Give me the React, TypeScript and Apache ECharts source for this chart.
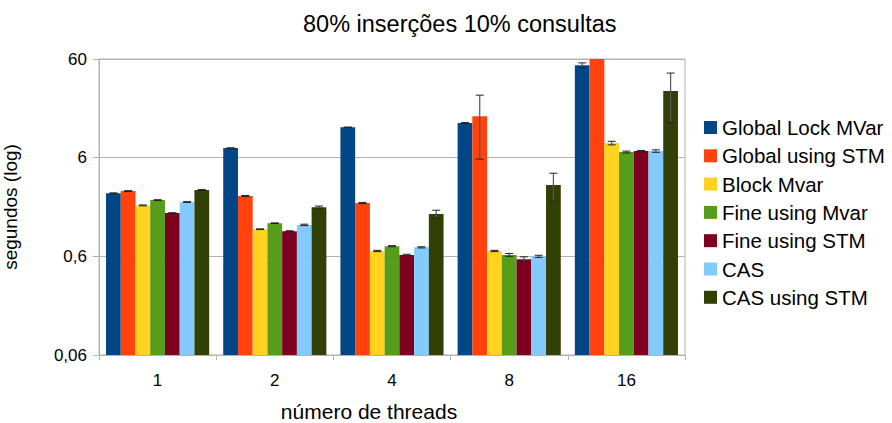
import React, { useEffect, useRef } from "react";
import * as echarts from "echarts";

const categories = ["1", "2", "4", "8", "16"];
const seriesNames = [
  "Global Lock MVar",
  "Global using STM",
  "Block Mvar",
  "Fine using Mvar",
  "Fine using STM",
  "CAS",
  "CAS using STM",
];
const globalLockMVar = [2.61, 7.5, 12.2, 13.5, 52.0];
const globalUsingSTM = [2.75, 2.45, 2.08, 15.8, 65];
const blockMvar = [1.97, 1.13, 0.68, 0.68, 8.44];
const fineUsingMvar = [2.23, 1.3, 0.76, 0.62, 6.84];
const fineUsingSTM = [1.65, 1.08, 0.62, 0.56, 7.0];
const cas = [2.13, 1.25, 0.74, 0.6, 7.0];
const casUsingSTM = [2.82, 1.89, 1.61, 3.17, 28.4];

const errGlobalLockMVar = [0.03, 0.05, 0.05, 0.1, 2.8];
const errGlobalUsingSTM = [0.03, 0.03, 0.03, 10, 0];
const errBlockMvar = [0.02, 0.01, 0.01, 0.01, 0.35];
const errFineUsingMvar = [0.02, 0.01, 0.01, 0.02, 0.15];
const errFineUsingSTM = [0.01, 0.01, 0.01, 0.033, 0.1];
const errCas = [0.02, 0.02, 0.01, 0.015, 0.2];
const errCasUsingSTM = [0.03, 0.05, 0.15, 1.0, 14.8];

const yTickLabels = ["0,06", "0,6", "6", "60"];
const colors = ["#004586", "#ff420e", "#ffd320", "#579d1c", "#7e0021", "#83caff", "#314004"];

const BASE = 0.06;
const t = (v: number) => Math.log10(v / BASE);

const values = [globalLockMVar, globalUsingSTM, blockMvar, fineUsingMvar, fineUsingSTM, cas, casUsingSTM];
const errors = [errGlobalLockMVar, errGlobalUsingSTM, errBlockMvar, errFineUsingMvar, errFineUsingSTM, errCas, errCasUsingSTM];

const GAP = 0.12;
const FONT = "Liberation Sans";

export default function App() {
  const ref = useRef<HTMLDivElement>(null);
  useEffect(() => {
    document.body.style.margin = "0";
    if (!ref.current) return;
    const chart = echarts.init(ref.current, null, { renderer: "svg" });
    const n = seriesNames.length;
    const barSeries = seriesNames.map((name, i) => ({
      name,
      type: "bar",
      data: values[i].map(t),
      barGap: "0%",
      barCategoryGap: "12%",
      itemStyle: { color: colors[i] },
      clip: true,
    }));
    const errData: number[][] = [];
    values.forEach((arr, s) => {
      arr.forEach((v, c) => {
        const e = errors[s][c];
        if (e > 0) errData.push([c, t(v), t(Math.max(v - e, 0.061)), t(v + e), s]);
      });
    });
    const errSeries = {
      type: "custom",
      name: "err",
      clip: true,
      z: 5,
      encode: { x: 0, y: 1 },
      data: errData,
      renderItem: (params: any, api: any) => {
        const c = api.value(0);
        const lo = api.value(2);
        const hi = api.value(3);
        const s = api.value(4);
        const band = api.size([1, 0])[0];
        const total = band * (1 - GAP);
        const bw = total / n;
        const cx = api.coord([c, 0])[0] - total / 2 + (s + 0.5) * bw;
        const yLo = api.coord([c, lo])[1];
        const yHi = api.coord([c, hi])[1];
        const hw = 4;
        const style = { stroke: "#222", lineWidth: 1 };
        return {
          type: "group",
          children: [
            { type: "line", shape: { x1: cx, y1: yLo, x2: cx, y2: yHi }, style: { stroke: "#555", lineWidth: 1.2 } },
            { type: "line", shape: { x1: cx - hw, y1: yHi, x2: cx + hw, y2: yHi }, style },
            { type: "line", shape: { x1: cx - hw, y1: yLo, x2: cx + hw, y2: yLo }, style },
          ],
        };
      },
    };
    chart.setOption({
      animation: false,
      textStyle: { fontFamily: FONT },
      grid: {
        left: 99,
        right: 207,
        top: 59,
        bottom: 68,
        show: true,
        borderColor: "#b3b3b3",
        borderWidth: 1,
        containLabel: false,
        outerBoundsMode: "none",
      },
      legend: {
        data: seriesNames,
        orient: "vertical",
        left: 699,
        top: 112,
        itemWidth: 13,
        itemHeight: 13,
        itemGap: 7.3,
        icon: "rect",
        textStyle: { fontSize: 20.5, color: "#000", fontFamily: FONT, lineHeight: 20 },
      },
      xAxis: {
        type: "category",
        data: categories,
        axisLine: { lineStyle: { color: "#b3b3b3" } },
        axisTick: { show: true, length: 5, lineStyle: { color: "#b3b3b3" } },
        axisLabel: { color: "#000", fontSize: 17, margin: 17, fontFamily: FONT },
      },
      yAxis: {
        type: "value",
        min: 0,
        max: 3,
        interval: 1,
        name: "segundos (log)",
        nameLocation: "middle",
        nameGap: 79,
        nameTextStyle: { fontSize: 19, color: "#000", fontFamily: FONT },
        axisLine: { show: true, lineStyle: { color: "#b3b3b3" } },
        axisTick: { show: true, length: 6, lineStyle: { color: "#b3b3b3" } },
        axisLabel: {
          color: "#000",
          fontSize: 17,
          margin: 12,
          fontFamily: FONT,
          formatter: (v: number) => yTickLabels[Math.round(v)] ?? "",
        },
        splitLine: { lineStyle: { color: "#b3b3b3" } },
      },
      graphic: [
        {
          type: "text",
          left: 303,
          top: 12,
          style: { text: "80% inserções 10% consultas", fontSize: 23.5, fill: "#000", fontFamily: FONT },
        },
        {
          type: "text",
          x: 369,
          y: 411,
          style: {
            text: "número de threads",
            fontSize: 21,
            fill: "#000",
            fontFamily: FONT,
            align: "center",
            verticalAlign: "middle",
          },
        },
      ],
      series: [...barSeries, errSeries],
    });
    return () => chart.dispose();
  }, []);
  return <div ref={ref} style={{ width: 892, height: 423 }} />;
}
